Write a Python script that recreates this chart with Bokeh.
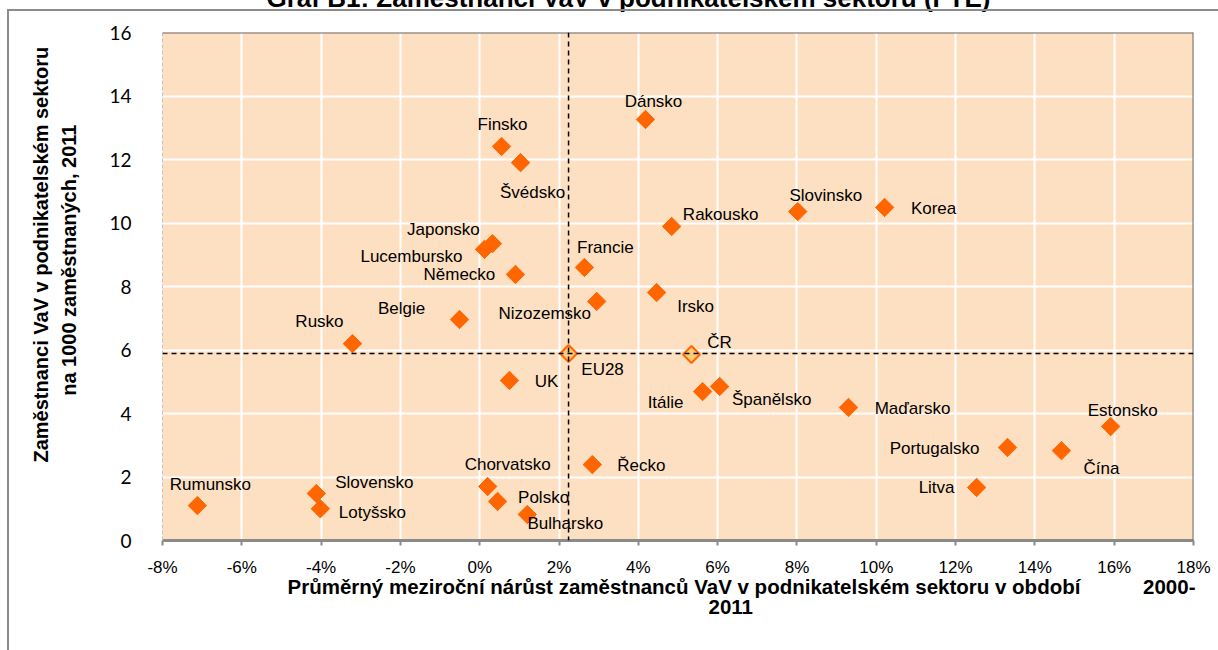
from bokeh.plotting import figure
from bokeh.models import ColumnDataSource, Span, FixedTicker, Title
from bokeh.embed import file_html
from bokeh.resources import INLINE
from bokeh.core.properties import value

# ---- data ----
countries = ["Dánsko", "Finsko", "Švédsko", "Japonsko", "Lucembursko", "Německo",
             "Francie", "Nizozemsko", "Irsko", "Rakousko", "Slovinsko", "Korea",
             "Belgie", "Rusko", "UK", "Itálie", "Španělsko", "Maďarsko", "Estonsko",
             "Portugalsko", "Čína", "Litva", "Řecko", "Chorvatsko", "Polsko",
             "Bulharsko", "Slovensko", "Lotyšsko", "Rumunsko"]
growth = [4.18, 0.55, 1.03, 0.32, 0.12, 0.90,
          2.64, 2.95, 4.46, 4.84, 8.02, 10.21,
          -0.51, -3.21, 0.75, 5.62, 6.05, 9.30, 15.91,
          13.31, 14.67, 12.53, 2.84, 0.20, 0.45,
          1.20, -4.12, -4.02, -7.12]
fte = [13.26, 12.41, 11.90, 9.35, 9.17, 8.38,
       8.60, 7.53, 7.81, 9.89, 10.36, 10.49,
       6.96, 6.20, 5.04, 4.69, 4.85, 4.19, 3.59,
       2.93, 2.83, 1.67, 2.39, 1.70, 1.23,
       0.82, 1.48, 1.00, 1.10]

ref_names = ["EU28", "ČR"]
ref_growth = [2.24, 5.34]
ref_fte = [5.89, 5.86]

x_ticks = [-8, -6, -4, -2, 0, 2, 4, 6, 8, 10, 12, 14, 16, 18]
x_tick_labels = ["-8%", "-6%", "-4%", "-2%", "0%", "2%", "4%", "6%", "8%",
                 "10%", "12%", "14%", "16%", "18%"]
y_ticks = [0, 2, 4, 6, 8, 10, 12, 14, 16]

title_text = "Graf B1: Zaměstnanci VaV v podnikatelském sektoru (FTE)"
x_title_1 = "Průměrný meziroční nárůst zaměstnanců VaV v podnikatelském sektoru v období"
x_title_2 = "2000-"
x_title_3 = "2011"
y_title_1 = "Zaměstnanci VaV v podnikatelském sektoru"
y_title_2 = "na 1000 zaměstnaných, 2011"

# ---- label placement (screen pixel offsets, style only) ----
label_offsets = {
    "Dánsko": (8, -18), "Finsko": (1, -22), "Švédsko": (12, 30), "Japonsko": (-49, -14),
    "Lucembursko": (-73, 7), "Německo": (-56, 0), "Francie": (21, -20),
    "Nizozemsko": (-52, 12), "Irsko": (39, 14), "Rakousko": (49, -12),
    "Slovinsko": (28, -16), "Korea": (49, 1), "Belgie": (-58, -11), "Rusko": (-33, -22),
    "UK": (37, 1), "Itálie": (-37, 11), "Španělsko": (52, 13), "Maďarsko": (64, 1),
    "Estonsko": (12, -16), "Portugalsko": (-73, 1), "Čína": (40, 18), "Litva": (-40, 0),
    "Řecko": (49, 1), "Chorvatsko": (20, -22), "Polsko": (46, -4), "Bulharsko": (38, 9),
    "Slovensko": (58, -11), "Lotyšsko": (52, 4), "Rumunsko": (13, -21),
    "EU28": (34, 16), "ČR": (28, -12),
}

SHIFT = 39  # figure is pulled up so that the chart title is cut at the top edge
W, H = 1218, 650 + SHIFT
BL, BR, BB = 162, 25, 110
p = figure(width=W, height=H, x_range=(-8, 18), y_range=(0, 16),
           output_backend="svg", toolbar_location=None, title=None,
           min_border_left=BL, min_border_right=BR, min_border_top=0,
           min_border_bottom=BB)
p.margin = (-SHIFT, 0, 0, 0)
p.background_fill_color = "#FDDFC1"
p.border_fill_color = "white"
p.outline_line_color = None
p.stylesheets = [
    ":host { position: relative; } "
    ":host::after { content: ''; position: absolute; left: 7px; top: %dpx; right: 0px; "
    "bottom: 0px; border-top: 2px solid #8c8c8c; border-left: 2px solid #8c8c8c; "
    "pointer-events: none; z-index: 1000; }" % (9 + SHIFT)
]

p.xgrid.grid_line_color = "white"
p.ygrid.grid_line_color = "white"
p.xgrid.grid_line_width = 2
p.ygrid.grid_line_width = 2
p.xaxis.ticker = FixedTicker(ticks=x_ticks)
p.yaxis.ticker = FixedTicker(ticks=y_ticks)
p.xaxis.major_label_overrides = {t: l for t, l in zip(x_ticks, x_tick_labels)}
p.xaxis.minor_tick_line_color = None
p.yaxis.minor_tick_line_color = None

p.xaxis.axis_line_color = "#8a8a8a"
p.xaxis.axis_line_width = 3
p.xaxis.major_tick_line_color = "#8a8a8a"
p.xaxis.major_tick_line_width = 2
p.xaxis.major_tick_in = 0
p.xaxis.major_tick_out = 5
p.xaxis.major_label_text_font = "Liberation Sans"
p.xaxis.major_label_text_font_size = "17px"
p.xaxis.major_label_text_color = "black"
p.xaxis.major_label_standoff = 12

p.yaxis.axis_line_color = "#c4c4c4"
p.yaxis.axis_line_width = 1
p.yaxis.axis_line_dash = "4 2"
p.yaxis.major_tick_line_color = None
p.yaxis.major_label_text_font = "Lato"
p.yaxis.major_label_text_font_size = "19px"
p.yaxis.major_label_text_color = "black"
p.yaxis.major_label_standoff = 25

# frame top/right borders
p.add_layout(Span(location=16, dimension="width", line_color="#6a6a6a", line_width=2))
p.add_layout(Span(location=18, dimension="height", line_color="#6a6a6a", line_width=2))

# reference lines at EU28
p.add_layout(Span(location=ref_growth[0], dimension="height", line_color="black",
                  line_dash="5 4", line_width=1.5))
p.add_layout(Span(location=ref_fte[0], dimension="width", line_color="black",
                  line_dash="5 4", line_width=1.5))

dx = [label_offsets[c][0] for c in countries]
dy = [label_offsets[c][1] for c in countries]
src = ColumnDataSource(dict(x=growth, y=fte, name=countries, dx=dx, dy=dy))
p.scatter("x", "y", source=src, marker="square", size=13, angle=0.785398,
          fill_color="#FF6600", line_color="#FF6600")
p.text("x", "y", text="name", source=src, x_offset="dx", y_offset="dy",
       text_align="center", text_baseline="middle",
       text_font=value("Liberation Sans"), text_font_size="17px", text_color="black")

rdx = [label_offsets[c][0] for c in ref_names]
rdy = [label_offsets[c][1] for c in ref_names]
rsrc = ColumnDataSource(dict(x=ref_growth, y=ref_fte, name=ref_names, dx=rdx, dy=rdy))
p.scatter("x", "y", source=rsrc, marker="square", size=12, angle=0.785398,
          fill_color="#FBCB79", line_color="#FF6600", line_width=2)
p.text("x", "y", text="name", source=rsrc, x_offset="dx", y_offset="dy",
       text_align="center", text_baseline="middle",
       text_font=value("Liberation Sans"), text_font_size="17px", text_color="black")


def ttl(text, size="18px", align="left", offset=0, standoff=0, line_height=1.0):
    try:
        return Title(text=text, align=align, offset=offset, standoff=standoff,
                     text_font="Liberation Sans", text_font_style="bold",
                     text_font_size=size, text_color="black",
                     text_line_height=line_height)
    except Exception:
        return Title(text=text, align=align, offset=offset, standoff=0,
                     text_font="Liberation Sans", text_font_style="bold",
                     text_font_size=size, text_color="black",
                     text_line_height=line_height)


NBSP = "\u00a0"
# x axis title (below)
p.add_layout(ttl(x_title_1 + NBSP * 11 + x_title_2, size="20.5px", offset=125,
                 standoff=-14), "below")
p.add_layout(ttl(x_title_3, size="20.5px", offset=546, standoff=14), "below")
# y axis title (left): two centred lines
p.add_layout(ttl(y_title_1 + "\n" + NBSP * 12 + y_title_2, size="20px", align="left",
                 offset=78, standoff=54, line_height=1.25), "left")
# chart title (above, cut off at the top edge like in the reference)
p.add_layout(ttl(title_text, size="26px", align="left", offset=104, standoff=39), "above")

open("out.html", "w").write(file_html(p, INLINE))
